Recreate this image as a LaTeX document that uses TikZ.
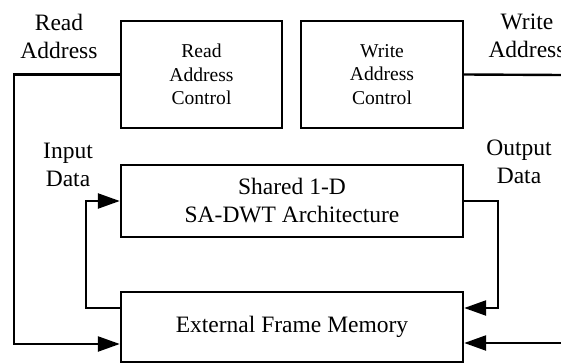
\documentclass[tikz,border=0pt]{standalone}
\usepackage{fontspec}
\setmainfont{Liberation Serif}
\usetikzlibrary{arrows.meta}
\begin{document}
\begin{tikzpicture}[x=1pt,y=-1pt,
  block/.style={draw, line width=2.4pt, inner sep=0pt, align=center},
  bigtext/.style={font=\fontsize{23.5}{28}\selectfont},
  smalltext/.style={font=\fontsize{19.6}{23.5}\selectfont},
  label/.style={align=center, inner sep=0pt, font=\fontsize{23.5}{28}\selectfont},
  wire/.style={line width=2.4pt},
  arr/.style={wire, -{Triangle[length=22pt,width=15pt]}}]
\useasboundingbox (0,0) rectangle (561,363);
% control blocks
\node[block, smalltext, minimum width=161pt, minimum height=107pt] (rac) at (201.5,74.5) {Read\\Address\\Control};
\node[block, smalltext, minimum width=162pt, minimum height=107pt] (wac) at (382,74.5) {Write\\Address\\Control};
% datapath and memory
\node[block, bigtext, minimum width=342pt, minimum height=72pt] (dwt) at (292,201) {Shared 1-D\\SA-DWT Architecture};
\node[block, bigtext, minimum width=342pt, minimum height=70pt] (mem) at (292,327) {External Frame Memory};
% signal names
\node[label] (lra) at (59,36) {Read\\Address};
\node[label] (lwa) at (527,36) {Write\\Address};
\node[label] (lin) at (68,165) {Input\\Data};
\node[label] (lout) at (519,162) {Output\\Data};
% turning points of the wires
\coordinate (rturn) at (14,344);
\coordinate (inturn) at (86,308);
\coordinate (outturn) at (498,308);
\coordinate (wend) at (561,75);
\coordinate (wmem) at (561,343);
% connections
\draw[arr] (rac.west) -| (rturn) -- (rturn -| mem.west);
\draw[wire] (wac.east) -- (wend);
\draw[arr] (inturn -| mem.west) -- (inturn) |- (dwt.west);
\draw[arr] (dwt.east) -| (outturn) -- (outturn -| mem.east);
\draw[arr] (wmem) -- (wmem -| mem.east);
\end{tikzpicture}
\end{document}
